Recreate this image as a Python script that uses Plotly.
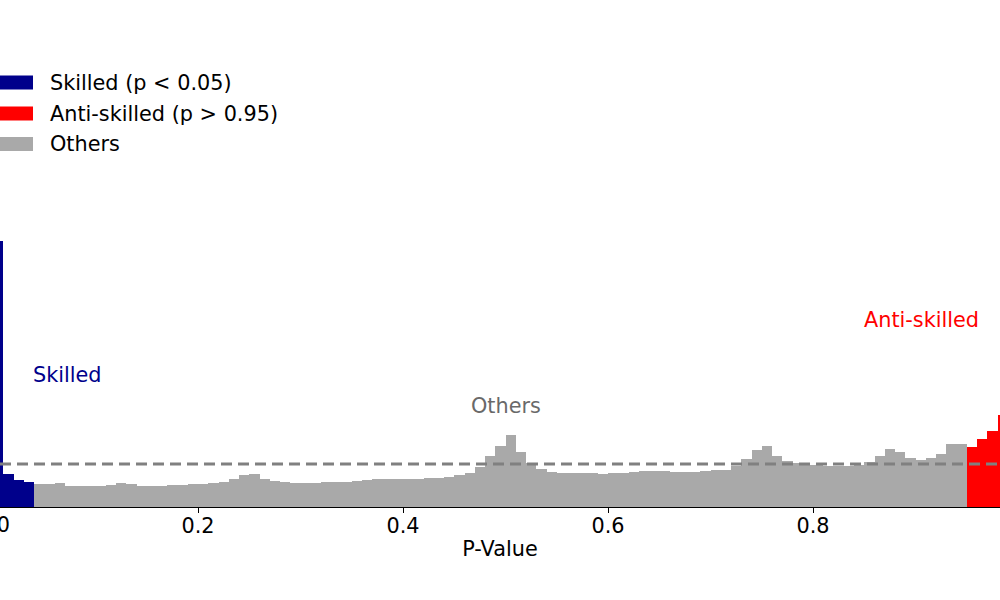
import numpy as np
import plotly.graph_objects as go

# Histogram of p-values: 100 bins of width 0.01 on [0, 1], density normalised
BIN_WIDTH = 0.01
density = [
    6.19, 0.77, 0.62, 0.58, 0.54, 0.54, 0.56, 0.50, 0.49, 0.49,
    0.50, 0.52, 0.56, 0.53, 0.49, 0.49, 0.50, 0.51, 0.52, 0.53,
    0.53, 0.55, 0.59, 0.66, 0.75, 0.77, 0.66, 0.60, 0.57, 0.56,
    0.56, 0.56, 0.57, 0.57, 0.59, 0.61, 0.63, 0.65, 0.66, 0.65,
    0.64, 0.65, 0.67, 0.68, 0.70, 0.74, 0.78, 0.93, 1.19, 1.43,
    1.67, 1.29, 1.02, 0.89, 0.81, 0.80, 0.79, 0.79, 0.78, 0.77,
    0.79, 0.80, 0.82, 0.83, 0.83, 0.83, 0.82, 0.81, 0.82, 0.84,
    0.86, 0.87, 0.96, 1.12, 1.33, 1.41, 1.19, 1.06, 1.02, 0.98,
    0.97, 0.96, 0.96, 0.96, 0.97, 1.05, 1.19, 1.36, 1.27, 1.14,
    1.10, 1.14, 1.23, 1.47, 1.47, 1.39, 1.59, 1.76, 2.13, 2.60,
]
# group of each bin as drawn: first bins skilled, last bins anti-skilled
n_skilled_bins = 4
n_anti_bins = 5
uniform_density = 1.0

group_names = ["Skilled (p < 0.05)", "Anti-skilled (p > 0.95)", "Others"]
group_colors = ["#00008B", "#FF0000", "#A9A9A9"]
region_labels = ["Skilled", "Others", "Anti-skilled"]
region_label_x = [0.073, 0.5, 0.906]
region_label_y = [3.08, 2.36, 4.34]
region_label_colors = ["#00008B", "#696969", "#FF0000"]
tick_vals = [0.2, 0.4, 0.6, 0.8]
tick_text = ["0.2", "0.4", "0.6", "0.8"]

FONT = "DejaVu Sans"
FS = 20.8

n = len(density)
centers = np.arange(n) * BIN_WIDTH + BIN_WIDTH / 2
dens = np.array(density)
idx_sk = np.arange(n) < n_skilled_bins
idx_anti = np.arange(n) >= n - n_anti_bins
idx_oth = ~(idx_sk | idx_anti)

X_RANGE = [7 / 1025, 1007 / 1025]

fig = go.Figure()
for mask, name, col in [(idx_sk, group_names[0], group_colors[0]),
                        (idx_anti, group_names[1], group_colors[1]),
                        (idx_oth, group_names[2], group_colors[2])]:
    fig.add_trace(go.Bar(
        x=centers[mask], y=dens[mask], width=BIN_WIDTH, name=name,
        marker=dict(color=col, line=dict(width=0)), showlegend=False,
    ))

fig.add_hline(y=uniform_density, line=dict(color="#808080", width=2.8, dash="11px,6px"))

# region labels
for t, x, y, c in zip(region_labels, region_label_x, region_label_y, region_label_colors):
    fig.add_annotation(x=x, y=y, xref="x", yref="y", text=t, showarrow=False,
                       font=dict(family=FONT, size=FS, color=c),
                       xanchor="center", yanchor="middle")

# partially visible 0.0 tick label just beyond the left edge of the axis range
zero_paper_x = (0.0 - X_RANGE[0]) / (X_RANGE[1] - X_RANGE[0])
fig.add_annotation(x=zero_paper_x, y=0, xref="paper", yref="paper", text="0.0",
                   showarrow=False, font=dict(family=FONT, size=FS, color="black"),
                   xanchor="center", yanchor="top", yshift=-4)

# legend (drawn as patches + labels, upper left)
PLOT_H = 507.0
legend_rows_px = [82.5, 113.5, 144.0]
for name, col, py in zip(group_names, group_colors, legend_rows_px):
    yc = (PLOT_H - py) / PLOT_H
    fig.add_shape(type="rect", xref="paper", yref="paper",
                  x0=-0.02, x1=0.033, y0=yc - 7 / PLOT_H, y1=yc + 7 / PLOT_H,
                  fillcolor=col, line=dict(width=0))
    fig.add_annotation(x=0.048, y=yc, xref="paper", yref="paper", text=name,
                       showarrow=False, xanchor="left", yanchor="middle",
                       font=dict(family=FONT, size=FS, color="black"))

fig.update_layout(
    width=1000, height=600,
    margin=dict(l=0, r=0, t=0, b=93, pad=0),
    paper_bgcolor="white", plot_bgcolor="white",
    bargap=0, barmode="overlay",
    font=dict(family=FONT, size=FS, color="black"),
    showlegend=False,
    xaxis=dict(range=X_RANGE, tickvals=tick_vals, ticktext=tick_text,
               showgrid=False, zeroline=False, showline=True, linecolor="black",
               linewidth=1.1, ticks="outside", ticklen=5, tickwidth=1.1, tickcolor="black",
               tickfont=dict(family=FONT, size=FS), ticklabelstandoff=-5,
               title=dict(text="P-Value", font=dict(family=FONT, size=FS), standoff=4)),
    yaxis=dict(range=[0, PLOT_H / 43.0], visible=False, showgrid=False, zeroline=False),
)

fig.write_html("out.html", config={"displayModeBar": False},
               post_script="document.body.style.margin='0';document.body.style.overflow='hidden';")
